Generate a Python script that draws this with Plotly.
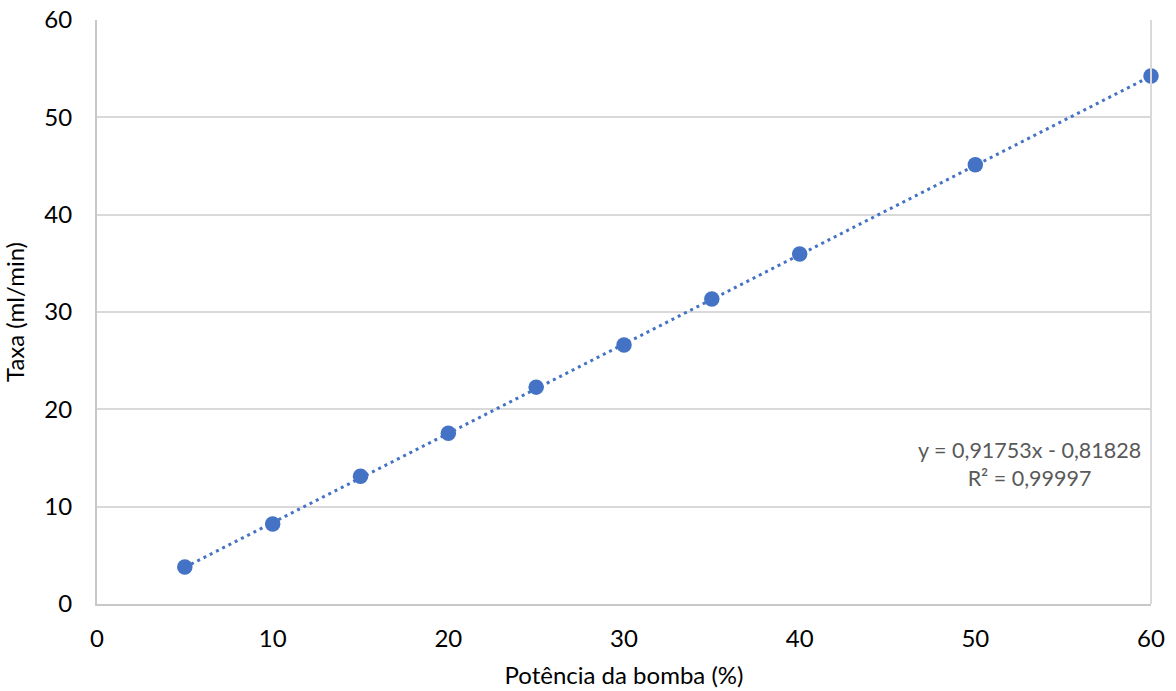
import numpy as np
import plotly.graph_objects as go

# Pump power (%) and measured flow rate (ml/min)
potencia = [5, 10, 15, 20, 25, 30, 35, 40, 50, 60]
taxa = [3.80, 8.22, 13.12, 17.55, 22.28, 26.62, 31.33, 35.95, 45.12, 54.25]

# Linear trendline coefficients and fit quality
slope = 0.91753
intercept = -0.81828
r2 = 0.99997

x_tick_vals = [0, 10, 20, 30, 40, 50, 60]
y_tick_vals = [0, 10, 20, 30, 40, 50, 60]

blue = "#4472C4"
font_family = "Lato, 'Open Sans', sans-serif"

x_fit = np.array([min(potencia), max(potencia)])
y_fit = slope * x_fit + intercept

fig = go.Figure()
fig.add_trace(go.Scatter(
    x=x_fit, y=y_fit, mode="lines",
    line=dict(color=blue, width=3, dash="3px,4px"),
    hoverinfo="skip", showlegend=False, cliponaxis=False,
))
fig.add_trace(go.Scatter(
    x=potencia, y=taxa, mode="markers",
    marker=dict(color=blue, size=15.5, line=dict(width=0)),
    showlegend=False, cliponaxis=False,
))

eq_text = f"y = {slope:.5f}x - {abs(intercept):.5f}".replace(".", ",")
r2_text = f"R² = {r2:.5f}".replace(".", ",")
fig.add_annotation(
    x=1.0, xref="paper", xanchor="right", y=14.4, yref="y", yanchor="middle",
    text=eq_text + "<br>" + r2_text,
    showarrow=False, align="center",
    font=dict(family=font_family, size=21.5, color="#595959"),
    xshift=-8,
)

fig.update_layout(
    width=1176, height=691,
    margin=dict(l=97, r=25, t=20, b=87, autoexpand=False),
    paper_bgcolor="white", plot_bgcolor="white",
    font=dict(family=font_family, size=24, color="#000000"),
)
fig.update_xaxes(
    range=[0, 60], tickvals=x_tick_vals, automargin=False,
    showgrid=False, zeroline=False,
    showline=True, linecolor="#c8c8c8", linewidth=2, mirror=False,
    ticks="", ticklabelstandoff=12,
    title=dict(text="Potência da bomba (%)", font=dict(size=24), standoff=16),
)
fig.update_yaxes(
    range=[0, 60], tickvals=y_tick_vals, automargin=False,
    showgrid=True, gridcolor="#d9d9d9", gridwidth=1.5, zeroline=False,
    showline=True, linecolor="#c8c8c8", linewidth=2,
    ticks="", ticklabelstandoff=18,
    title=dict(text="Taxa (ml/min)", font=dict(size=24), standoff=14),
)
# Right-hand border of the plotting area
fig.add_shape(type="line", xref="paper", yref="paper", x0=1, x1=1, y0=0, y1=1,
              line=dict(color="#d9d9d9", width=2))

fig.write_html("out.html")
